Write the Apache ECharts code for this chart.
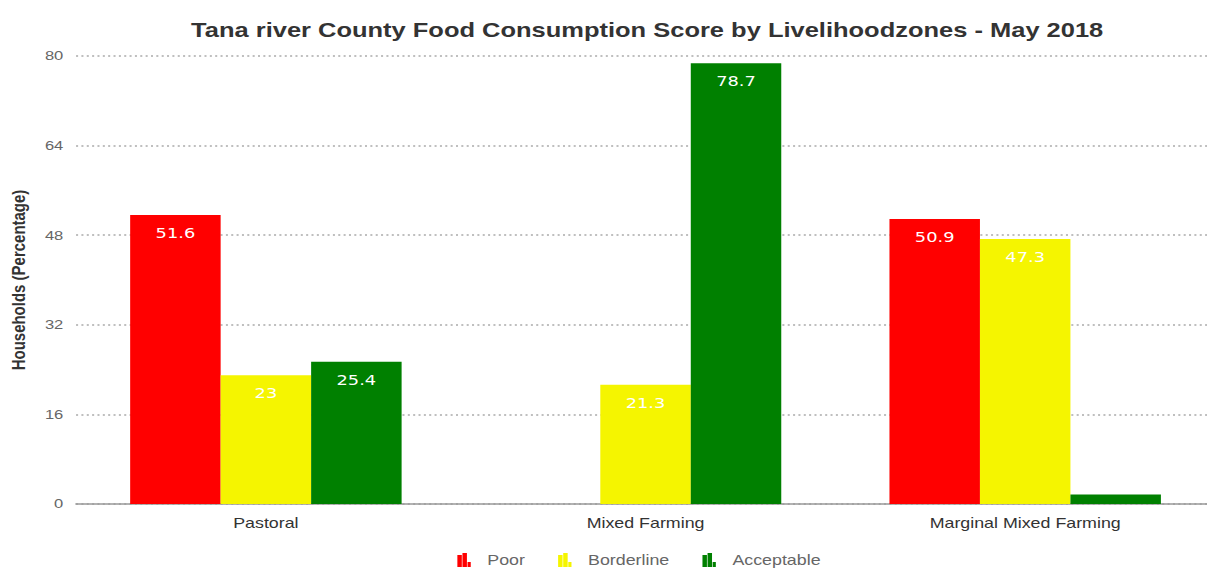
<!DOCTYPE html>
<html>
<head>
<meta charset="utf-8">
<script src="https://cdn.jsdelivr.net/npm/echarts@6/dist/echarts.min.js"></script>
<style>
  html, body { margin: 0; padding: 0; background: #fff; }
  body { width: 1207px; height: 569px; overflow: hidden; }
  /* the chart is laid out narrow and widened horizontally */
  #chart { width: 960px; height: 569px; transform: scaleX(1.274); transform-origin: 0 0; }
</style>
</head>
<body>
<div id="chart"></div>
<script>
// Livelihood zones along the x axis
const zones = ['Pastoral', 'Mixed Farming', 'Marginal Mixed Farming'];
// Food consumption score groups (% of households)
const poor = [51.6, null, 50.9];
const borderline = [23, 21.3, 47.3];
const acceptable = [25.4, 78.7, 1.7];
// Value axis ticks
const yTicks = [0, 16, 32, 48, 64, 80];

const colors = { Poor: '#ff0000', Borderline: '#f5f500', Acceptable: '#008000' };
// small bar-chart glyph; the trailing move keeps blank room before the text
const barIcon = 'path://M0,2H3.5V14H0Z M4,0H7.5V14H4Z M8,9H10.5V14H8Z M18.5,14';

function makeSeries(name, values) {
  return {
    name: name,
    type: 'bar',
    barGap: 0,
    barCategoryGap: '28.5%',
    itemStyle: { color: colors[name] },
    data: values.map(v => {
      if (v === null) return '-';
      // values too small to hold a label are drawn without one
      return v < 5 ? { value: v, label: { show: false } } : v;
    }),
    label: {
      show: true,
      position: 'insideTop',
      distance: 11,
      color: '#ffffff',
      fontFamily: 'DejaVu Sans',
      fontSize: 14
    }
  };
}

const chart = echarts.init(document.getElementById('chart'), null, { renderer: 'svg' });
chart.setOption({
  animation: false,
  title: {
    text: 'Tana river County Food Consumption Score by Livelihoodzones - May 2018',
    left: 503,
    textAlign: 'center',
    top: 15,
    textStyle: { fontFamily: 'Liberation Sans', fontWeight: 'bold', fontSize: 20, color: '#333' }
  },
  legend: {
    left: 359,
    top: 553,
    padding: 0,
    itemGap: 26,
    itemWidth: 18.5,
    itemHeight: 14,
    icon: barIcon,
    textStyle: { fontFamily: 'Liberation Sans', fontSize: 14, color: '#666' },
    data: ['Poor', 'Borderline', 'Acceptable']
  },
  grid: { left: 59.7, top: 56, width: 894, height: 448, outerBoundsMode: 'none', containLabel: false },
  xAxis: {
    type: 'category',
    data: zones,
    axisTick: { show: false },
    axisLine: { lineStyle: { color: '#999', width: 1.5 } },
    axisLabel: { fontFamily: 'Liberation Sans', fontSize: 14, color: '#333', margin: 12 }
  },
  yAxis: {
    type: 'value',
    min: yTicks[0],
    max: yTicks[yTicks.length - 1],
    interval: yTicks[1] - yTicks[0],
    name: 'Households (Percentage)',
    nameLocation: 'middle',
    nameGap: 38,
    nameTextStyle: { fontFamily: 'Liberation Sans', fontWeight: 'bold', fontSize: 15, color: '#333' },
    axisLine: { show: false },
    axisTick: { show: false },
    axisLabel: { fontFamily: 'Liberation Sans', fontSize: 13, color: '#666', margin: 10 },
    splitLine: { lineStyle: { type: [1.6, 2.6], color: '#aaa', width: 1.5 } }
  },
  series: [
    makeSeries('Poor', poor),
    makeSeries('Borderline', borderline),
    makeSeries('Acceptable', acceptable)
  ]
});
</script>
</body>
</html>
